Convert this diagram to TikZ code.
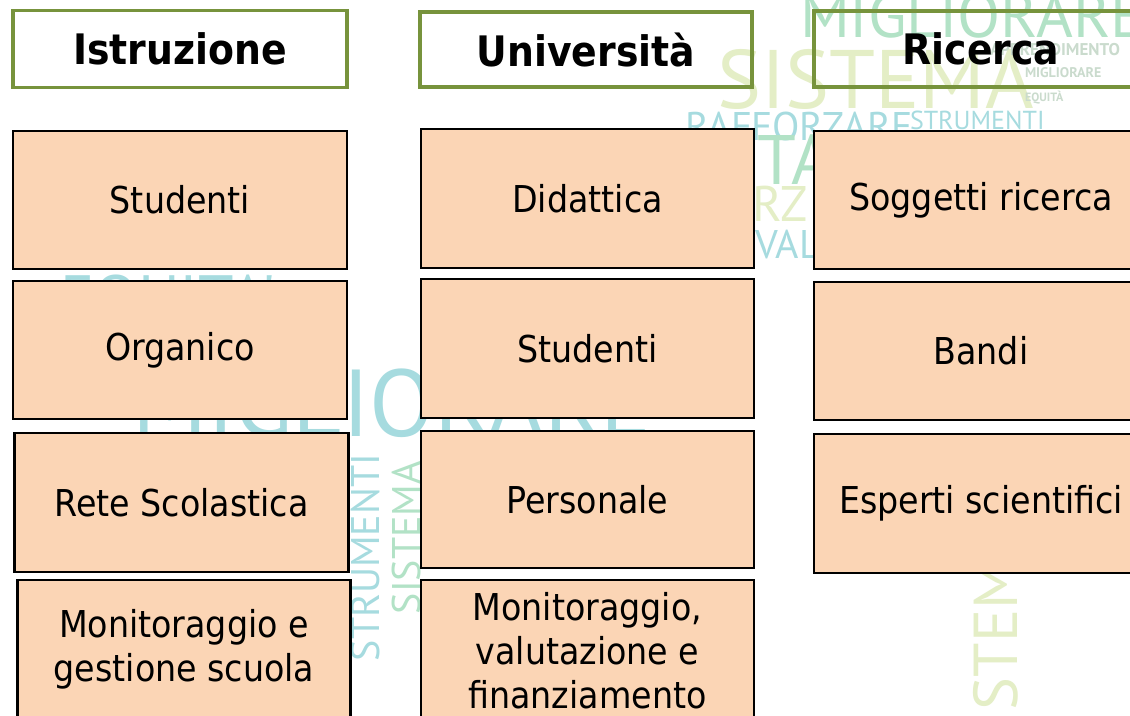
\documentclass[tikz,border=0pt]{standalone}
\usepackage{fontspec}
\setmainfont{DejaVu Sans Condensed}
\newfontfamily\cloudfont{PT Sans}
\definecolor{peach}{HTML}{FBD5B5}
\definecolor{olivegr}{HTML}{77933C}
\definecolor{cmint}{HTML}{B2E2C6}
\definecolor{cpale}{HTML}{E4EEC6}
\definecolor{cteal}{HTML}{A6DBDF}
\definecolor{cgrey}{HTML}{CADBCD}
\begin{document}
\begin{tikzpicture}[x=1pt,y=-1pt,
  hbox/.style={draw=olivegr, line width=3.8pt, minimum width=334pt, minimum height=77pt,
    inner sep=0pt, font=\bfseries\fontsize{42}{50}\selectfont},
  obox/.style={draw=black, line width=2.8pt, fill=peach, minimum width=333pt, minimum height=138pt,
    inner sep=0pt, align=center, font=\fontsize{37}{44}\selectfont},
  cloudw/.style={inner sep=0pt, outer sep=0pt},
]
\useasboundingbox (0,0) rectangle (1130,715);
\clip (0,0) rectangle (1130,715);
\fill[white] (0,0) rectangle (1130,715);
% faint word cloud in the background
\node[cloudw, anchor=base west, text=cmint, font=\cloudfont\fontsize{63}{63}\selectfont] (w1) at (800,37) {MIGLIORARE};
\node[cloudw, anchor=base west, text=cpale, font=\cloudfont\fontsize{83}{83}\selectfont] (w2) at (717,108) {SISTEMA};
\node[cloudw, anchor=base west, text=cteal, font=\cloudfont\fontsize{40}{40}\selectfont] (w3) at (685,140) {RAFFORZARE};
\node[cloudw, anchor=base west, text=cteal, font=\cloudfont\fontsize{26}{26}\selectfont] (w4) at (910,129) {STRUMENTI};
\node[cloudw, anchor=base east, text=cgrey, font=\cloudfont\bfseries\fontsize{17}{17}\selectfont] (w5) at (1120,55) {APPRENDIMENTO};
\node[cloudw, anchor=base west, text=cgrey, font=\cloudfont\bfseries\fontsize{14}{14}\selectfont] (w6) at (1025,77) {MIGLIORARE};
\node[cloudw, anchor=base west, text=cgrey, font=\cloudfont\bfseries\fontsize{12}{12}\selectfont] (w7) at (1025,101) {EQUITÀ};
\node[cloudw, anchor=base west, text=cmint, font=\cloudfont\fontsize{70}{70}\selectfont] (w8) at (712,184) {UTA};
\node[cloudw, anchor=base west, text=cpale, font=\cloudfont\fontsize{50}{50}\selectfont] (w9) at (752,221) {RZ};
\node[cloudw, anchor=base west, text=cteal, font=\cloudfont\fontsize{40}{40}\selectfont] (w10) at (755,258) {VAL};
\node[cloudw, anchor=base west, text=cteal, font=\cloudfont\fontsize{95}{95}\selectfont] (w11) at (132,436) {MIGLIORARE};
\node[cloudw, anchor=base west, text=cteal, font=\cloudfont\fontsize{64}{64}\selectfont] (w12) at (60,320) {EQUITA'};
\node[cloudw, anchor=base west, rotate=90, text=cteal, font=\cloudfont\fontsize{40}{40}\selectfont] (w13) at (379,661) {STRUMENTI};
\node[cloudw, anchor=base west, rotate=90, text=cmint, font=\cloudfont\fontsize{40}{40}\selectfont] (w14) at (420,614) {SISTEMA};
\node[cloudw, anchor=base west, rotate=90, text=cpale, font=\cloudfont\fontsize{62}{62}\selectfont] (w15) at (1017,761) {SISTEMA};
% column headers
\node[hbox] (h1) at (180,49) {Istruzione};
\node[hbox, minimum width=332pt, minimum height=75pt] (h2) at (586,49.5) {Università};
\node[hbox, minimum height=76pt] (h3) at (981,49) {Ricerca};
% Istruzione
\node[obox, minimum width=334pt] (i1) at (180,200) {Studenti};
\node[obox, minimum width=334pt] (i2) at (180,350) {Organico};
\node[obox, minimum width=334pt, minimum height=139pt] (i3) at (181.5,502.5) {Rete Scolastica};
\node[obox] (i4) at (184,649) {Monitoraggio e\\gestione scuola};
% Università
\node[obox, minimum height=139pt] (u1) at (587.5,198.5) {Didattica};
\node[obox, minimum height=139pt] (u2) at (587.5,348.5) {Studenti};
\node[obox, minimum height=137pt] (u3) at (587.5,499.5) {Personale};
\node[obox, minimum height=142pt] (u4) at (587.5,651) {Monitoraggio,\\valutazione e\\finanziamento};
% Ricerca
\node[obox, minimum width=334pt] (r1) at (981,200) {Soggetti ricerca};
\node[obox, minimum width=334pt] (r2) at (981,351) {Bandi};
\node[obox, minimum width=334pt, minimum height=139pt] (r3) at (981,503.5) {Esperti scientifici};
\end{tikzpicture}
\end{document}
